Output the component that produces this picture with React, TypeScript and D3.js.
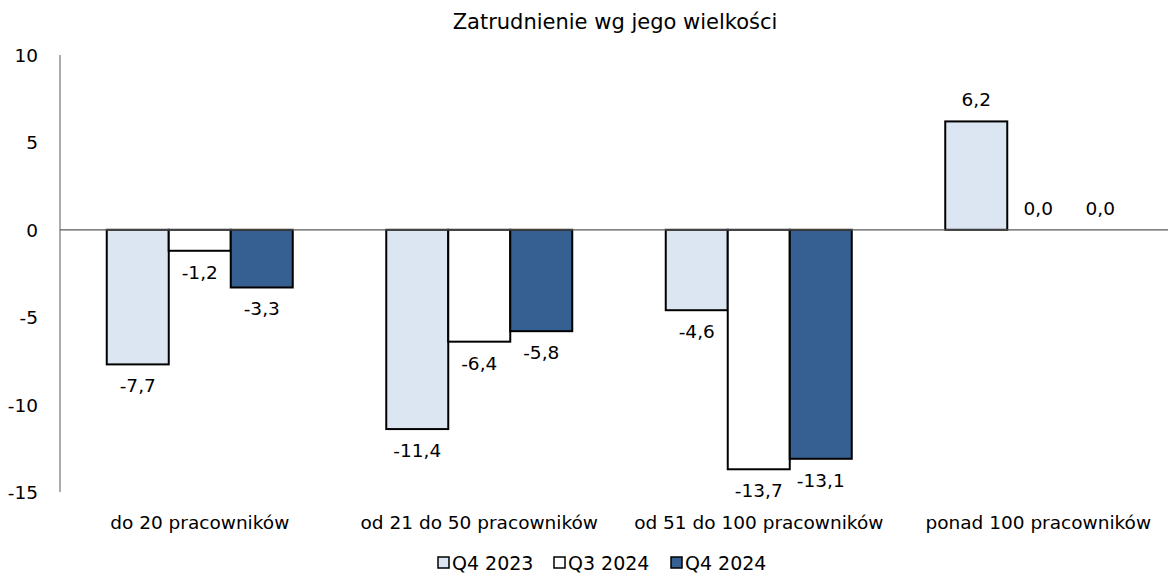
import React, { useEffect } from "react";
import * as d3 from "d3";

const categories = ["do 20 pracowników", "od 21 do 50 pracowników", "od 51 do 100 pracowników", "ponad 100 pracowników"];
const seriesNames = ["Q4 2023", "Q3 2024", "Q4 2024"];
const q4_2023 = [-7.7, -11.4, -4.6, 6.2];
const q3_2024 = [-1.2, -6.4, -13.7, 0.0];
const q4_2024 = [-3.3, -5.8, -13.1, 0.0];
const yTicks = [10, 5, 0, -5, -10, -15];
const title = "Zatrudnienie wg jego wielkości";

const colors = ["#dce6f2", "#ffffff", "#366092"];
const W = 1173, H = 580;
const font = "DejaVu Sans, Verdana, sans-serif";

export default function App() {
  useEffect(() => { document.body.style.margin = "0"; }, []);
  const series = [q4_2023, q3_2024, q4_2024];
  const x0 = d3.scaleBand<string>().domain(categories).range([60, 1178]).paddingInner(0).paddingOuter(0);
  const inner = 186 / 279.5;
  const x1 = d3.scaleBand<string>().domain(seriesNames).range([0, x0.bandwidth() * inner]);
  const off = (x0.bandwidth() * (1 - inner)) / 2;
  const y = d3.scaleLinear().domain([-15, 10]).range([492, 55]);
  const fmt = (v: number) => v.toFixed(1).replace(".", ",");
  const fs = 18.5;
  const legendX = [438, 554, 671];
  return (
    <svg width={W} height={H} style={{ display: "block", fontFamily: font }}>
      <rect width={W} height={H} fill="#fff" />
      <text x={615} y={29} textAnchor="middle" fontSize={21} fill="#000">{title}</text>
      {yTicks.map((t) => (
        <text key={t} x={38} y={y(t) + 7} textAnchor="end" fontSize={fs} fill="#000">{t}</text>
      ))}
      <line x1={60} x2={60} y1={y(10)} y2={y(-15)} stroke="#7f7f7f" strokeWidth={1.3} />
      {categories.map((c, ci) => (
        <g key={c}>
          {series.map((s, si) => {
            const v = s[ci];
            const bx = (x0(c) as number) + off + (x1(seriesNames[si]) as number);
            const bw = x1.bandwidth();
            const top = Math.min(y(v), y(0));
            const h = Math.abs(y(v) - y(0));
            const ly = v >= 0 ? y(v) - 15 : y(v) + 28;
            return (
              <g key={si}>
                {h > 0 && <rect x={bx} y={top} width={bw} height={h} fill={colors[si]} stroke="#000" strokeWidth={2} />}
                <text x={bx + bw / 2} y={ly} textAnchor="middle" fontSize={fs} fill="#000">{fmt(v)}</text>
              </g>
            );
          })}
          <text x={(x0(c) as number) + x0.bandwidth() / 2} y={529} textAnchor="middle" fontSize={fs} fill="#000">{c}</text>
        </g>
      ))}
      <line x1={60} x2={1168} y1={y(0)} y2={y(0)} stroke="#595959" strokeWidth={1.3} />
      {seriesNames.map((n, i) => (
        <g key={n}>
          <rect x={legendX[i]} y={557} width={11} height={11} fill={colors[i]} stroke="#000" strokeWidth={1.5} />
          <text x={legendX[i] + 14} y={570} fontSize={19} fill="#000">{n}</text>
        </g>
      ))}
    </svg>
  );
}
